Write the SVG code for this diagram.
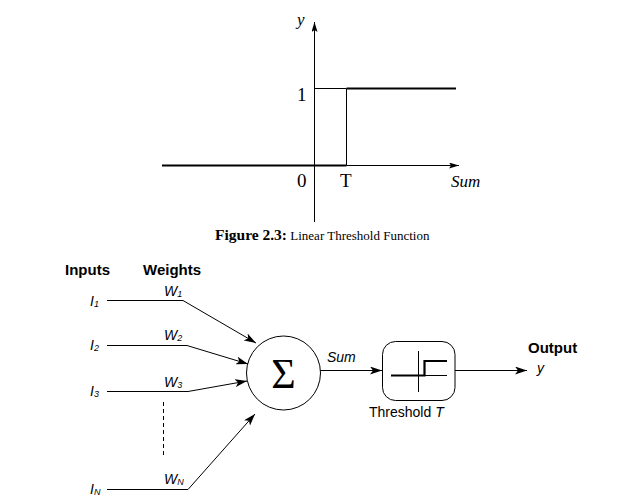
<svg xmlns="http://www.w3.org/2000/svg" width="618" height="498" viewBox="0 0 618 498">
<style>
.serif{font-family:"Liberation Serif","Times New Roman",serif;fill:#000}
.sans{font-family:"Liberation Sans",Arial,sans-serif;fill:#000}
.it{font-style:italic}
.thin{stroke:#000;stroke-width:1;fill:none}
.thick{stroke:#000;stroke-width:2.2;fill:none}
</style>
<defs>
<marker id="ah" viewBox="0 0 12 8" refX="12" refY="4" markerWidth="12" markerHeight="8" markerUnits="userSpaceOnUse" orient="auto">
<path d="M0,0 L12,4 L0,8 L3,4 Z" fill="#000"/>
</marker>
<marker id="ahs" viewBox="0 0 10 6" refX="10" refY="3" markerWidth="10" markerHeight="6" markerUnits="userSpaceOnUse" orient="auto">
<path d="M0,0 L10,3 L0,6 L2,3 Z" fill="#000"/>
</marker>
</defs>
<rect width="618" height="498" fill="#fff"/>

<g id="graph">
<line class="thin" x1="314.5" y1="222" x2="314.5" y2="22" marker-end="url(#ahs)"/>
<line class="thick" x1="162" y1="165.5" x2="346.5" y2="165.5"/>
<line class="thin" x1="346.5" y1="165.5" x2="459" y2="165.5" marker-end="url(#ahs)"/>
<line class="thin" x1="314.5" y1="88.5" x2="346.5" y2="88.5"/>
<line class="thin" x1="346.5" y1="88.5" x2="346.5" y2="165.5"/>
<line class="thick" x1="346.5" y1="88.5" x2="456" y2="88.5"/>
<text class="serif it" x="297" y="25" font-size="17">y</text>
<text class="serif" x="297" y="101" font-size="19">1</text>
<text class="serif" x="297" y="187" font-size="19">0</text>
<text class="serif" x="340" y="187" font-size="19">T</text>
<text class="serif it" x="451" y="187" font-size="17">Sum</text>
<text class="serif" x="215" y="240" font-size="13"><tspan font-weight="bold" font-size="15.5">Figure 2.3:</tspan> Linear Threshold Function</text>
</g>

<g id="headers">
<text class="sans" x="65" y="275" font-size="15" font-weight="bold">Inputs</text>
<text class="sans" x="143" y="275" font-size="15" font-weight="bold">Weights</text>
</g>

<g id="input1">
<text class="sans it" x="90" y="306" font-size="14">I<tspan font-size="9" dy="1">1</tspan></text>
<text class="sans it" x="164" y="296" font-size="14">W<tspan font-size="9" dy="1">1</tspan></text>
</g>
<g id="input2">
<text class="sans it" x="90" y="350" font-size="14">I<tspan font-size="9" dy="1">2</tspan></text>
<text class="sans it" x="164" y="340" font-size="14">W<tspan font-size="9" dy="1">2</tspan></text>
</g>
<g id="input3">
<text class="sans it" x="90" y="396" font-size="14">I<tspan font-size="9" dy="1">3</tspan></text>
<text class="sans it" x="164" y="387" font-size="14">W<tspan font-size="9" dy="1">3</tspan></text>
</g>
<g id="inputN">
<text class="sans it" x="90" y="494" font-size="14">I<tspan font-size="9" dy="1">N</tspan></text>
<text class="sans it" x="164" y="484" font-size="14">W<tspan font-size="9" dy="1">N</tspan></text>
</g>

<g id="sum">
<circle class="thin" cx="283.5" cy="373" r="37"/>
<text class="serif" x="283.5" y="388" font-size="42" text-anchor="middle">Σ</text>
</g>

<g id="threshold">
<rect class="thin" x="382.5" y="341.5" width="72.5" height="59" rx="13"/>
<line class="thin" x1="418.5" y1="351" x2="418.5" y2="392"/>
<line class="thin" x1="391" y1="375.5" x2="447" y2="375.5"/>
<path class="thick" d="M391,375.5 H424.5 V361 H447"/>
<text class="sans" x="369" y="417" font-size="14">Threshold <tspan font-style="italic">T</tspan></text>
</g>

<g id="output">
<text class="sans" x="528" y="353" font-size="15" font-weight="bold">Output</text>
<text class="sans it" x="537" y="373" font-size="14">y</text>
</g>

<g id="connectors">
<polyline class="thin" points="107,300.5 183,300.5 256,343" marker-end="url(#ah)"/>
<polyline class="thin" points="107,345.5 187,345.5 248,364" marker-end="url(#ah)"/>
<polyline class="thin" points="107,391.5 188,391.5 247,381" marker-end="url(#ah)"/>
<polyline class="thin" points="107,489.5 188,489.5 255,414" marker-end="url(#ah)"/>
<line class="thin" x1="163.5" y1="402" x2="163.5" y2="458" stroke-dasharray="4,3"/>
<line class="thin" x1="320.5" y1="370.5" x2="382" y2="370.5" marker-end="url(#ah)"/>
<text class="sans it" x="327" y="362" font-size="14">Sum</text>
<line class="thin" x1="455" y1="370.5" x2="527" y2="370.5" marker-end="url(#ah)"/>
</g>
</svg>
